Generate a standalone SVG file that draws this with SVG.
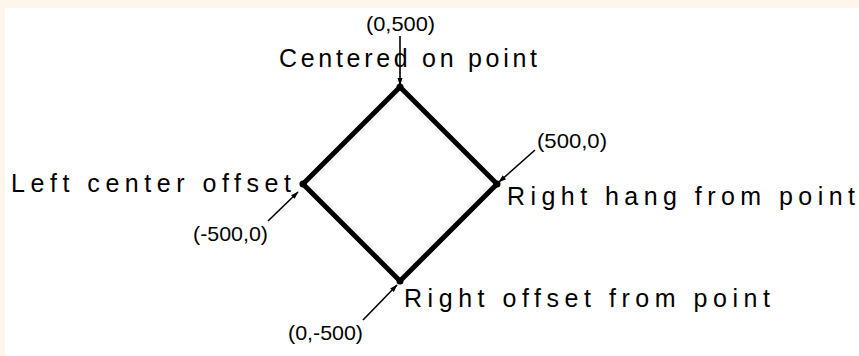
<svg xmlns="http://www.w3.org/2000/svg" width="859" height="356" viewBox="0 0 859 356">
<style>
.lbl{font-family:"Liberation Sans",Arial,sans-serif;font-size:25px;fill:#000}
.crd{font-family:"Liberation Sans",Arial,sans-serif;font-size:21px;fill:#000}
.arr{stroke:#000;stroke-width:1.6;fill:none;marker-end:url(#ah)}
.dot{fill:#000}
</style>
<defs>
<marker id="ah" viewBox="0 0 10 10" refX="9" refY="5" markerWidth="8" markerHeight="8" markerUnits="userSpaceOnUse" orient="auto">
<path d="M0,1.8 L10,5 L0,8.2 Z" fill="#000"/>
</marker>
</defs>
<rect x="0" y="0" width="859" height="356" fill="#fdf6ea"/>
<rect x="5" y="8" width="854" height="348" fill="#fff"/>
<g id="diamond">
<polygon points="400,87 497,184 400,281 303,184" fill="none" stroke="#000" stroke-width="5" stroke-linejoin="miter"/>
<circle class="dot" cx="400" cy="87" r="3.5"/>
<circle class="dot" cx="497" cy="184" r="3.5"/>
<circle class="dot" cx="400" cy="281" r="3.5"/>
<circle class="dot" cx="303" cy="184" r="3.5"/>
</g>
<g id="top">
<text class="crd" x="366" y="31" textLength="69" lengthAdjust="spacingAndGlyphs">(0,500)</text>
<text class="lbl" x="279" y="67" textLength="258" lengthAdjust="spacing">Centered on point</text>
</g>
<g id="right">
<text class="crd" x="537" y="148" textLength="70" lengthAdjust="spacingAndGlyphs">(500,0)</text>
<text class="lbl" x="507" y="205" textLength="348" lengthAdjust="spacing">Right hang from point</text>
</g>
<g id="left">
<text class="lbl" x="11" y="192" textLength="280" lengthAdjust="spacing">Left center offset</text>
<text class="crd" x="193" y="241" textLength="75" lengthAdjust="spacingAndGlyphs">(-500,0)</text>
</g>
<g id="bottom">
<text class="lbl" x="404" y="307" textLength="366" lengthAdjust="spacing">Right offset from point</text>
<text class="crd" x="288" y="340" textLength="75" lengthAdjust="spacingAndGlyphs">(0,-500)</text>
</g>
<g id="connectors">
<line class="arr" x1="400" y1="36" x2="400" y2="85"/>
<line class="arr" x1="535" y1="150" x2="499" y2="182"/>
<line class="arr" x1="268" y1="221" x2="298" y2="192"/>
<line class="arr" x1="363" y1="320" x2="397" y2="285"/>
</g>
</svg>
